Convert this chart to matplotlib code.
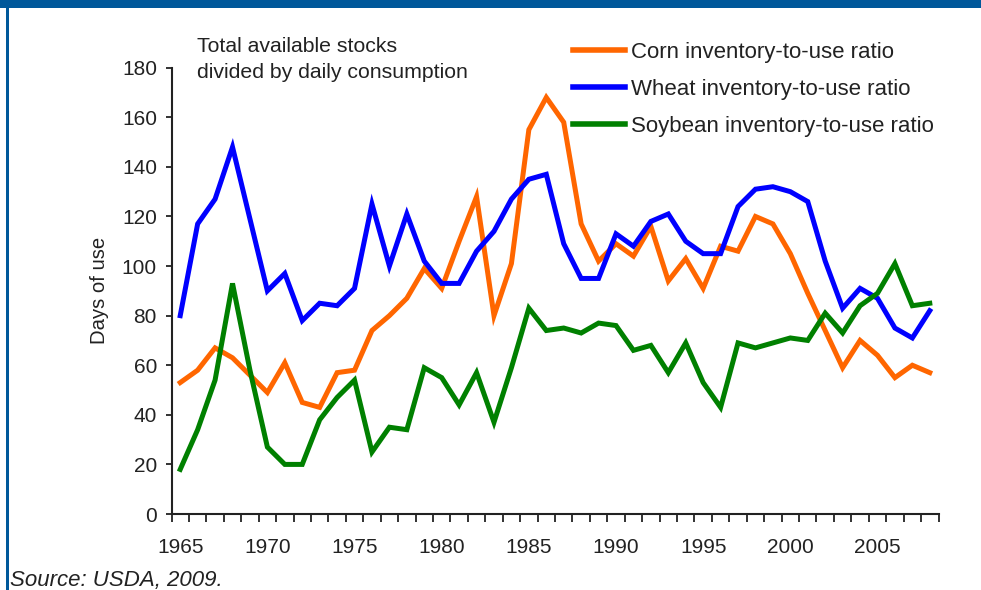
import matplotlib
matplotlib.use("Agg")
import matplotlib.pyplot as plt
from matplotlib.lines import Line2D
from matplotlib.patches import Rectangle
import numpy as np

plt.rcParams['font.family'] = ['Liberation Sans', 'DejaVu Sans']

years = list(range(1965, 2009))

# days of use
corn = [53, 58, 67, 63, 56, 49, 61, 45, 43, 57, 58, 74, 80, 87, 99,
        91, 110, 128, 80, 101, 155, 168, 158, 117, 102, 109, 104, 116,
        94, 103, 91, 108, 106, 120, 117, 105, 89, 74, 59, 70, 64, 55, 60, 57]
wheat = [80, 117, 127, 148, 119, 90, 97, 78, 85, 84, 91, 125, 100, 121, 102,
         93, 93, 106, 114, 127, 135, 137, 109, 95, 95, 113, 108, 118,
         121, 110, 105, 105, 124, 131, 132, 130, 126, 102, 83, 91, 87, 75, 71, 82]
soy = [18, 34, 54, 93, 58, 27, 20, 20, 38, 47, 54, 25, 35, 34, 59,
       55, 44, 57, 37, 59, 83, 74, 75, 73, 77, 76, 66, 68,
       57, 69, 53, 43, 69, 67, 69, 71, 70, 81, 73, 84, 89, 101, 84, 85]

labels = ["Corn inventory-to-use ratio", "Wheat inventory-to-use ratio",
          "Soybean inventory-to-use ratio"]
colors = ["#FF6600", "#0000FF", "#008000"]

fig = plt.figure(figsize=(9.81, 5.90), dpi=100)
fig.patch.set_facecolor("white")

# blue frame bits
fig.add_artist(Rectangle((0, 1 - 8 / 590), 1, 8 / 590, transform=fig.transFigure,
                         color="#00589A", lw=0))
fig.add_artist(Rectangle((6 / 981, 0), 2.5 / 981, 1, transform=fig.transFigure,
                         color="#00589A", lw=0))

ax = fig.add_axes([171.5 / 981, 1 - 514 / 590, (938.5 - 171.5) / 981, (514 - 67.7) / 590])

for vals, c, lab in zip([corn, wheat, soy], colors, labels):
    ax.plot(years, vals, color=c, lw=3.6, label=lab, solid_joinstyle="miter")

ax.set_xlim(1964.5, 2008.5)
ax.set_ylim(0, 180)
ax.set_yticks(np.arange(0, 181, 20))
ax.set_xticks(range(1965, 2009, 5))
ax.set_xticks(np.arange(1964.5, 2009, 1), minor=True)
ax.tick_params(axis="x", which="major", length=0, pad=17, labelsize=15, colors="#222222")
ax.tick_params(axis="x", which="minor", length=6, width=1.3, direction="out", color="#222222")
ax.tick_params(axis="y", which="major", length=4.5, width=1.3, direction="out", pad=6,
               labelsize=15, colors="#222222")

for s in ["top", "right"]:
    ax.spines[s].set_visible(False)
for s in ["left", "bottom"]:
    ax.spines[s].set_linewidth(1.5)
    ax.spines[s].set_color("#222222")

ax.set_ylabel("Days of use", fontsize=14.6, color="#222222", labelpad=9)

fig.text(197 / 981, 1 - 37 / 590, "Total available stocks\ndivided by daily consumption",
         fontsize=15.3, color="#222222", va="top", ha="left", linespacing=1.45)

handles = [Line2D([], [], color=c, lw=4) for c in colors]
fig.legend(handles, labels, loc="upper left", bbox_to_anchor=(562 / 981, 1 - 31 / 590),
           bbox_transform=fig.transFigure, frameon=False, fontsize=16,
           handlelength=2.35, handletextpad=0.27, labelspacing=0.72, borderpad=0,
           labelcolor="#222222")

fig.text(10 / 981, 1 - 586 / 590, "Source: USDA, 2009.", fontsize=16, style="italic",
         color="#222222", va="baseline", ha="left")

fig.savefig("out.png", dpi=100, facecolor="white")
